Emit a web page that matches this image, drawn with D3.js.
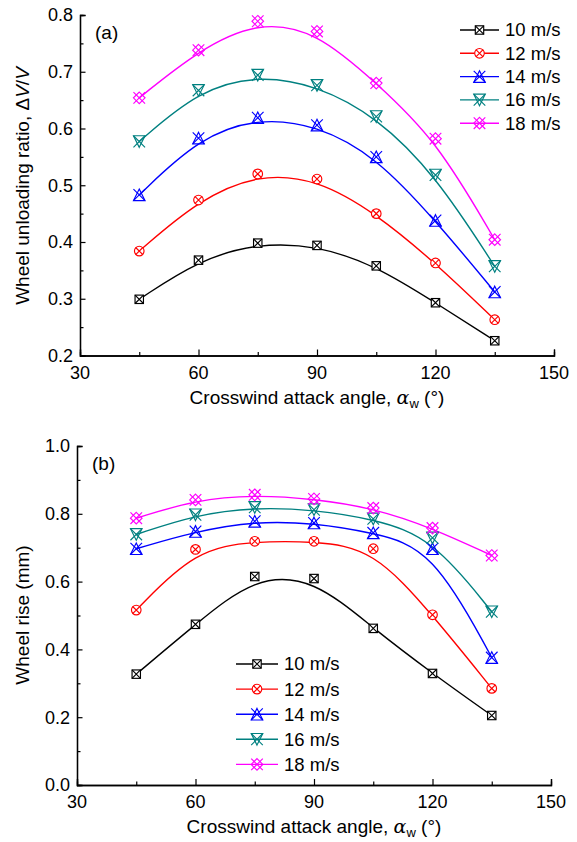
<!DOCTYPE html>
<html><head><meta charset="utf-8">
<script src="https://cdn.jsdelivr.net/npm/d3@7"></script>
<style>
body{margin:0;background:#fff;}
svg{display:block;font-family:"Liberation Sans",Arial,sans-serif;}
</style></head>
<body><svg id="c" width="577" height="842"></svg>
<script>
const angles = [45, 60, 75, 90, 105, 120, 135];
const speeds = ["10 m/s", "12 m/s", "14 m/s", "16 m/s", "18 m/s"];
const colors = ["#000000", "#ff0000", "#0000ff", "#008080", "#ff00ff"];
const symbols = ["square", "circle", "triUp", "triDown", "diamond"];

// (a) Wheel unloading ratio
const ratio10 = [0.299, 0.368, 0.398, 0.394, 0.358, 0.293, 0.226];
const ratio12 = [0.384, 0.474, 0.520, 0.511, 0.450, 0.363, 0.263];
const ratio14 = [0.483, 0.583, 0.619, 0.606, 0.550, 0.438, 0.312];
const ratio16 = [0.577, 0.667, 0.694, 0.676, 0.621, 0.518, 0.357];
const ratio18 = [0.654, 0.738, 0.789, 0.771, 0.680, 0.582, 0.404];

// (b) Wheel rise (mm)
const rise10 = [0.327, 0.474, 0.615, 0.609, 0.462, 0.329, 0.205];
const rise12 = [0.516, 0.695, 0.719, 0.719, 0.697, 0.502, 0.285];
const rise14 = [0.697, 0.748, 0.778, 0.773, 0.744, 0.697, 0.376];
const rise16 = [0.739, 0.797, 0.819, 0.812, 0.785, 0.729, 0.511];
const rise18 = [0.787, 0.841, 0.856, 0.844, 0.817, 0.758, 0.677];

const xTicks = [30, 60, 90, 120, 150];
const yTicksA = [0.2, 0.3, 0.4, 0.5, 0.6, 0.7, 0.8];
const yTicksB = [0.0, 0.2, 0.4, 0.6, 0.8, 1.0];

const svg = d3.select("#c");

function marker(g, type, cx, cy, color) {
  const m = g.append("g").attr("transform", `translate(${cx},${cy})`)
    .attr("fill", "none").attr("stroke", color).attr("stroke-width", 1.15);
  let r = 5;
  if (type === "square") {
    r = 4.2;
    m.append("rect").attr("x", -r).attr("y", -r).attr("width", 2*r).attr("height", 2*r).attr("fill","#fff");
    m.append("path").attr("d", `M${-r},${-r}L${r},${r}M${r},${-r}L${-r},${r}`);
  } else if (type === "circle") {
    r = 4.8;
    m.append("circle").attr("r", r).attr("fill","#fff");
    const k = r*0.75;
    m.append("path").attr("d", `M${-k},${-k}L${k},${k}M${k},${-k}L${-k},${k}`);
  } else if (type === "triUp") {
    r = 5.8;
    m.append("path").attr("d", `M0,${-r}L${r},${r}L${-r},${r}Z`);
    m.append("path").attr("d", `M${-r},${-r}L${r},${r}M${r},${-r}L${-r},${r}`);
  } else if (type === "triDown") {
    r = 5.8;
    m.append("path").attr("d", `M0,${r}L${r},${-r}L${-r},${-r}Z`);
    m.append("path").attr("d", `M${-r},${-r}L${r},${r}M${r},${-r}L${-r},${r}`);
  } else {
    r = 5.8;
    m.append("path").attr("d", `M0,${-r}L${r},0L0,${r}L${-r},0Z`);
    m.append("path").attr("d", `M${-r},${-r}L${r},${r}M${r},${-r}L${-r},${r}`);
  }
}

function panel(opt) {
  const x = d3.scaleLinear().domain([30, 150]).range([opt.x0, opt.x1]);
  const y = d3.scaleLinear().domain(opt.ydom).range([opt.y0, opt.y1]);
  const g = svg.append("g");

  const xAxis = d3.axisBottom(x).tickValues(xTicks).tickSize(-6).tickPadding(0).tickFormat("");
  const xMinor = d3.axisBottom(x).tickValues(d3.range(45, 150, 30)).tickSize(-3.5).tickFormat("");
  const yAxis = d3.axisLeft(y).tickValues(opt.yticks).tickSize(-5.5).tickFormat("");
  const yMinor = d3.axisLeft(y).tickValues(opt.yminor).tickSize(-3.5).tickFormat("");
  [ [xAxis, `translate(0,${opt.y0})`], [xMinor, `translate(0,${opt.y0})`],
    [yAxis, `translate(${opt.x0},0)`], [yMinor, `translate(${opt.x0},0)`] ].forEach(([ax, tr]) => {
    const a = g.append("g").attr("transform", tr).call(ax);
    a.selectAll("path,line").attr("stroke", "#000").attr("stroke-width", 1.2);
    a.select(".domain").attr("stroke-width", 1.3);
  });

  g.selectAll(".xl").data(xTicks).join("text")
    .attr("x", d => x(d)).attr("y", opt.y0 + 17).attr("dy", "0.35em")
    .attr("text-anchor", "middle").attr("font-size", 18).text(d => d);
  g.selectAll(".yl").data(opt.yticks).join("text")
    .attr("x", opt.x0 - 7).attr("y", d => y(d)).attr("dy", "0.35em")
    .attr("text-anchor", "end").attr("font-size", 18).text(d => d3.format(".1f")(d));

  const xt = g.append("text").attr("x", (opt.x0 + opt.x1) / 2).attr("y", opt.y0 + 48)
    .attr("text-anchor", "middle").attr("font-size", 19);
  xt.append("tspan").text("Crosswind attack angle, ");
  xt.append("tspan").attr("font-family", "'DejaVu Serif',serif").attr("font-style", "italic").text("α");
  xt.append("tspan").attr("font-size", 13).attr("dy", 4).text("w");
  xt.append("tspan").attr("dy", -4).text(" (°)");

  const yt = g.append("text").attr("transform", `translate(29,${opt.ytc}) rotate(-90)`)
    .attr("text-anchor", "middle").attr("font-size", 19);
  opt.ytitle.forEach(p => { const s = yt.append("tspan").text(p.t); if (p.i) s.attr("font-style", "italic"); });

  g.append("text").attr("x", opt.x0 + 15).attr("y", opt.y1 + 24).attr("font-size", 19).text(opt.label);

  const line = d3.line().x((d, i) => x(angles[i])).y(d => y(d)).curve(d3.curveBasis);
  opt.series.forEach((s, k) => {
    g.append("path").attr("d", line(s)).attr("fill", "none").attr("stroke", colors[k]).attr("stroke-width", 1.4);
  });
  opt.series.forEach((s, k) => {
    s.forEach((v, i) => marker(g, symbols[k], x(angles[i]), y(v), colors[k]));
  });

  speeds.forEach((name, k) => {
    const ly = opt.leg.y + k * opt.leg.dy;
    g.append("line").attr("x1", opt.leg.x).attr("x2", opt.leg.x + opt.leg.w).attr("y1", ly).attr("y2", ly)
      .attr("stroke", colors[k]).attr("stroke-width", 1.4);
    marker(g, symbols[k], opt.leg.x + opt.leg.w / 2, ly, colors[k]);
    g.append("text").attr("x", opt.leg.x + opt.leg.w + 6).attr("y", ly).attr("dy", "0.35em")
      .attr("font-size", 18.5).text(name);
  });
}

panel({
  x0: 80, x1: 554, y0: 355.5, y1: 15, ydom: [0.2, 0.8],
  yticks: yTicksA, yminor: [0.25, 0.35, 0.45, 0.55, 0.65, 0.75],
  series: [ratio10, ratio12, ratio14, ratio16, ratio18],
  ytc: 186, label: "(a)",
  ytitle: [{t: "Wheel unloading ratio, Δ"}, {t: "V", i: true}, {t: "/"}, {t: "V", i: true}],
  leg: {x: 460, w: 39, y: 30, dy: 23.3}
});
panel({
  x0: 77, x1: 551, y0: 785, y1: 446, ydom: [0, 1.0],
  yticks: yTicksB, yminor: [0.1, 0.3, 0.5, 0.7, 0.9],
  series: [rise10, rise12, rise14, rise16, rise18],
  ytc: 615, label: "(b)",
  ytitle: [{t: "Wheel rise (mm)"}],
  leg: {x: 236, w: 42, y: 664, dy: 25.1}
});
</script></body></html>
